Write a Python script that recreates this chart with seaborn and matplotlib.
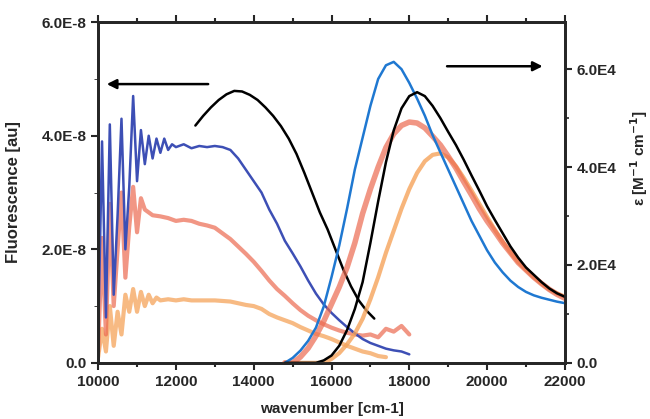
import numpy as np
import pandas as pd
import seaborn as sns
import matplotlib.pyplot as plt

# ---- emission spectra (left axis, units of 1E-8 au) ----
em_blue_x = [10000, 10100, 10200, 10300, 10400, 10500, 10600, 10700, 10800, 10900,
             11000, 11100, 11200, 11300, 11400, 11500, 11600, 11700, 11800, 11900,
             12000, 12200, 12400, 12600, 12800, 13000, 13200, 13400, 13600, 13800,
             14000, 14200, 14400, 14600, 14800, 15000, 15200, 15400, 15600, 15800,
             16000, 16200, 16400, 16600, 16800, 17000, 17200, 17400, 17600, 17800, 18000]
em_blue_y = [0.4, 3.9, 0.8, 4.2, 1.2, 2.6, 4.3, 2.0, 3.1, 4.7,
             3.2, 4.1, 3.5, 4.0, 3.6, 3.95, 3.7, 3.95, 3.75, 3.85,
             3.8, 3.85, 3.78, 3.82, 3.8, 3.82, 3.8, 3.75, 3.6, 3.4,
             3.2, 3.0, 2.7, 2.45, 2.15, 1.93, 1.7, 1.45, 1.22, 1.03,
             0.88, 0.75, 0.63, 0.52, 0.42, 0.35, 0.3, 0.25, 0.22, 0.2, 0.15]

em_red_x = [10000, 10100, 10200, 10300, 10400, 10500, 10600, 10700, 10800, 10900,
            11000, 11100, 11200, 11400, 11600, 11800, 12000, 12200, 12400, 12600,
            12800, 13000, 13200, 13400, 13600, 13800, 14000, 14200, 14400, 14600,
            14800, 15000, 15200, 15400, 15600, 15800, 16000, 16200, 16400, 16600,
            16800, 17000, 17200, 17400, 17600, 17800, 18000]
em_red_y = [0.2, 2.2, 0.5, 2.8, 1.0, 2.0, 3.0, 1.5, 2.4, 3.1,
            2.3, 2.9, 2.7, 2.6, 2.58, 2.55, 2.5, 2.52, 2.5, 2.45,
            2.42, 2.38, 2.28, 2.18, 2.05, 1.92, 1.78, 1.62, 1.45, 1.3,
            1.18, 1.05, 0.93, 0.83, 0.75, 0.68, 0.62, 0.57, 0.53, 0.5,
            0.48, 0.5, 0.45, 0.6, 0.55, 0.65, 0.5]

em_orange_x = [10000, 10100, 10200, 10300, 10400, 10500, 10600, 10700, 10800, 10900,
               11000, 11100, 11200, 11300, 11400, 11500, 11600, 11800, 12000, 12200,
               12400, 12600, 12800, 13000, 13200, 13400, 13600, 13800, 14000, 14200,
               14400, 14600, 14800, 15000, 15200, 15400, 15600, 15800, 16000, 16200,
               16400, 16600, 16800, 17000, 17200, 17400]
em_orange_y = [0.1, 0.6, 0.2, 1.0, 0.3, 0.9, 0.5, 1.2, 0.9, 1.3,
               0.9, 1.25, 1.0, 1.2, 1.05, 1.15, 1.1, 1.12, 1.1, 1.12,
               1.1, 1.1, 1.1, 1.1, 1.09, 1.08, 1.05, 1.02, 1.0, 0.95,
               0.86, 0.8, 0.75, 0.7, 0.63, 0.57, 0.51, 0.47, 0.42, 0.36,
               0.3, 0.25, 0.2, 0.17, 0.12, 0.1]

em_black_x = [12500, 12700, 12900, 13100, 13300, 13500, 13700, 13900, 14100, 14300,
              14500, 14700, 14900, 15100, 15300, 15500, 15700, 15900, 16100, 16300,
              16500, 16700, 16900, 17100]
em_black_y = [4.18, 4.35, 4.5, 4.63, 4.73, 4.79, 4.78, 4.72, 4.63, 4.5,
              4.35, 4.17, 3.95, 3.68, 3.35, 3.0, 2.65, 2.35, 2.0, 1.65,
              1.35, 1.1, 0.92, 0.78]

# ---- absorption spectra (right axis, units of 1E4) ----
ab_x = [14800, 15000, 15200, 15400, 15600, 15800, 16000, 16200, 16400, 16600,
        16800, 17000, 17200, 17400, 17600, 17800, 18000, 18200, 18400, 18600,
        18800, 19000, 19200, 19400, 19600, 19800, 20000, 20200, 20400, 20600,
        20800, 21000, 21200, 21400, 21600, 21800, 22000]
ab_blue = [0.0, 0.1, 0.25, 0.45, 0.72, 1.15, 1.75, 2.4, 3.15, 3.95,
           4.6, 5.25, 5.8, 6.08, 6.15, 6.0, 5.72, 5.4, 5.05, 4.65,
           4.3, 3.95, 3.6, 3.25, 2.9, 2.6, 2.3, 2.05, 1.85, 1.68,
           1.55, 1.45, 1.38, 1.33, 1.29, 1.25, 1.22]
ab_red = [0.0, 0.0, 0.12, 0.3, 0.55, 0.85, 1.2, 1.55, 1.95, 2.45,
          3.05, 3.55, 4.0, 4.4, 4.68, 4.85, 4.92, 4.9, 4.8, 4.63,
          4.45, 4.22, 3.98, 3.7, 3.43, 3.15, 2.9, 2.68, 2.45, 2.25,
          2.05, 1.9, 1.75, 1.62, 1.5, 1.4, 1.32]
ab_orange = [0.0, 0.0, 0.0, 0.0, 0.0, 0.0, 0.08, 0.2, 0.38, 0.6,
             0.9, 1.3, 1.75, 2.25, 2.7, 3.15, 3.55, 3.88, 4.12, 4.25,
             4.28, 4.2, 4.02, 3.78, 3.52, 3.25, 2.98, 2.72, 2.48, 2.26,
             2.06, 1.9, 1.75, 1.62, 1.5, 1.42, 1.35]
ab_black = [0.0, 0.0, 0.0, 0.0, 0.0, 0.05, 0.15, 0.35, 0.67, 1.1,
            1.65, 2.45, 3.3, 4.1, 4.75, 5.2, 5.45, 5.53, 5.45, 5.25,
            5.0, 4.72, 4.45, 4.15, 3.83, 3.52, 3.2, 2.92, 2.65, 2.38,
            2.15, 1.95, 1.8, 1.65, 1.52, 1.42, 1.35]

x_ticks = [10000, 12000, 14000, 16000, 18000, 20000, 22000]
left_ticks = [0, 2e-8, 4e-8, 6e-8]
left_labels = ['0.0', '2.0E-8', '4.0E-8', '6.0E-8']
right_ticks = [0, 2e4, 4e4, 6e4]
right_labels = ['0.0', '2.0E4', '4.0E4', '6.0E4']

sns.set_style("ticks")
plt.rcParams['font.family'] = ['Liberation Sans', 'DejaVu Sans']
plt.rcParams['font.weight'] = 'bold'
plt.rcParams['font.size'] = 11

c_blue_em = '#3d4fb5'
c_blue_ab = '#1f78d1'
c_red = '#ec6a50'
c_orange = '#f5a35a'

fig = plt.figure(figsize=(6.5, 4.19), dpi=100)
ax = fig.add_axes([0.151, 0.134, 0.718, 0.813])
ax2 = ax.twinx()

sns.lineplot(x=em_orange_x, y=np.array(em_orange_y) * 1e-8, ax=ax, color=c_orange, lw=3, alpha=0.75)
sns.lineplot(x=em_red_x, y=np.array(em_red_y) * 1e-8, ax=ax, color=c_red, lw=3, alpha=0.7)
sns.lineplot(x=em_blue_x, y=np.array(em_blue_y) * 1e-8, ax=ax, color=c_blue_em, lw=1.8)
sns.lineplot(x=em_black_x, y=np.array(em_black_y) * 1e-8, ax=ax, color='black', lw=1.8)

sns.lineplot(x=ab_x, y=np.array(ab_orange) * 1e4, ax=ax2, color=c_orange, lw=3, alpha=0.8)
sns.lineplot(x=ab_x, y=np.array(ab_red) * 1e4, ax=ax2, color=c_red, lw=4, alpha=0.7)
sns.lineplot(x=ab_x, y=np.array(ab_blue) * 1e4, ax=ax2, color=c_blue_ab, lw=1.8)
sns.lineplot(x=ab_x, y=np.array(ab_black) * 1e4, ax=ax2, color='black', lw=1.8)

ax.set_xlim(10000, 22000)
ax.set_ylim(0, 6e-8)
ax2.set_ylim(0, 6.96e4)
ax.set_xticks(x_ticks)
ax.set_xticks(np.arange(10000, 22001, 1000), minor=True)
ax.set_yticks(left_ticks)
ax.set_yticklabels(left_labels)
ax.set_yticks(np.arange(0, 6.1e-8, 1e-8), minor=True)
ax2.set_yticks(right_ticks)
ax2.set_yticklabels(right_labels)
ax2.set_yticks(np.arange(0, 7e4, 1e4), minor=True)

ax.tick_params(axis='x', which='both', top=True, direction='out', width=1.5)
ax.tick_params(which='major', length=5, labelsize=11)
ax.tick_params(which='minor', length=3)
ax2.tick_params(which='major', length=5, width=1.5, labelsize=11)
ax2.tick_params(which='minor', length=3, width=1.2)
ax.tick_params(axis='y', width=1.5)
for a in (ax, ax2):
    for s in a.spines.values():
        s.set_visible(True)
        s.set_linewidth(2)

ax.set_xlabel('wavenumber [cm-1]', fontweight='bold', fontsize=11)
ax.set_ylabel('Fluorescence [au]', fontweight='bold', fontsize=12)
ax2.set_ylabel('ε [M$^{-1}$ cm$^{-1}$]', fontweight='bold', fontsize=11)
ax.xaxis.set_label_coords(0.5, -0.115)
ax.yaxis.set_label_coords(-0.165, 0.5)
ax2.yaxis.set_label_coords(1.135, 0.6)

ax.annotate('', xy=(10150, 4.91e-8), xytext=(12900, 4.91e-8),
            arrowprops=dict(arrowstyle='-|>', color='black', lw=1.8, mutation_scale=14))
ax2.annotate('', xy=(21500, 6.06e4), xytext=(18900, 6.06e4),
             arrowprops=dict(arrowstyle='-|>', color='black', lw=1.8, mutation_scale=14))

fig.savefig('out.png', dpi=100)
